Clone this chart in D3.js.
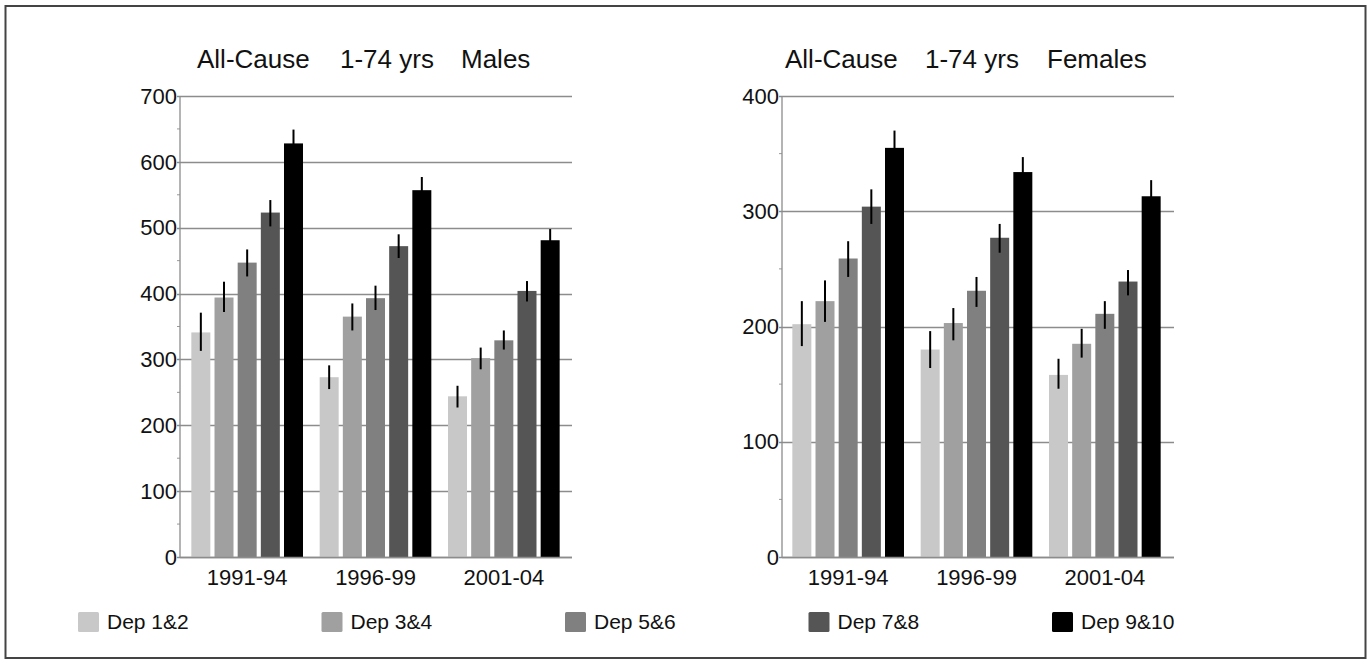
<!DOCTYPE html>
<html>
<head>
<meta charset="utf-8">
<script src="https://cdn.jsdelivr.net/npm/d3@7"></script>
<style>
  html, body { margin: 0; padding: 0; background: #fff; }
  svg { display: block; font-family: "Liberation Sans", Arial, sans-serif; }
</style>
</head>
<body>
<svg id="chart" width="1369" height="664"></svg>
<script>
// ---- Data ----
const categories = ["1991-94", "1996-99", "2001-04"];
const series = ["Dep 1&2", "Dep 3&4", "Dep 5&6", "Dep 7&8", "Dep 9&10"];
const colors = ["#c8c8c8", "#a0a0a0", "#808080", "#555555", "#000000"];

// rows = series, columns = categories
const maleValues = [
  [341, 273, 244],
  [394, 365, 302],
  [447, 393, 329],
  [523, 472, 404],
  [628, 557, 481]
];
const maleLower = [
  [313, 255, 227],
  [372, 344, 285],
  [426, 375, 315],
  [502, 454, 388],
  [607, 537, 465]
];
const maleUpper = [
  [371, 291, 260],
  [418, 385, 318],
  [467, 412, 344],
  [542, 490, 419],
  [649, 577, 498]
];

const femaleValues = [
  [202, 180, 158],
  [222, 203, 185],
  [259, 231, 211],
  [304, 277, 239],
  [355, 334, 313]
];
const femaleLower = [
  [183, 164, 146],
  [204, 188, 173],
  [243, 217, 198],
  [289, 264, 227],
  [339, 321, 300]
];
const femaleUpper = [
  [222, 196, 172],
  [240, 216, 198],
  [274, 243, 222],
  [319, 289, 249],
  [370, 347, 327]
];

const maleTicks = [0, 100, 200, 300, 400, 500, 600, 700];
const femaleTicks = [0, 100, 200, 300, 400];
const titleParts = ["All-Cause", "1-74 yrs"];
const maleTitleEnd = "Males";
const femaleTitleEnd = "Females";

// ---- Drawing ----
const svg = d3.select("#chart");

// outer border
svg.append("rect")
  .attr("x", 5.5).attr("y", 6)
  .attr("width", 1360).attr("height", 652)
  .attr("fill", "none").attr("stroke", "#444").attr("stroke-width", 2);

function panel(opts) {
  const g = svg.append("g");
  const y = d3.scaleLinear().domain([0, opts.max]).range([557, 96]);
  const x0 = d3.scaleBand().domain(categories).range(opts.catRange).padding(0);
  const x1 = d3.scaleBand().domain(series).range([0, x0.bandwidth()])
    .paddingInner(0.18).paddingOuter(0.36);

  // minor ticks
  const minor = d3.range(50, opts.max, 100);
  g.selectAll(".minor").data(minor).join("line")
    .attr("x1", opts.axisX - 3).attr("x2", opts.axisX)
    .attr("y1", d => y(d)).attr("y2", d => y(d))
    .attr("stroke", "#999").attr("stroke-width", 1);

  // grid lines + major ticks
  g.selectAll(".grid").data(opts.ticks).join("line")
    .attr("x1", opts.axisX - 3).attr("x2", opts.gridEnd)
    .attr("y1", d => Math.round(y(d)) + 0.5).attr("y2", d => Math.round(y(d)) + 0.5)
    .attr("stroke", "#8c8c8c").attr("stroke-width", 1.3);

  // y axis line
  g.append("line")
    .attr("x1", opts.axisX).attr("x2", opts.axisX)
    .attr("y1", y(opts.max)).attr("y2", y(0))
    .attr("stroke", "#8c8c8c").attr("stroke-width", 1.3);

  // y tick labels
  g.selectAll(".ylab").data(opts.ticks).join("text")
    .attr("x", opts.axisX - 3).attr("y", d => y(d))
    .attr("dy", "0.35em")
    .attr("text-anchor", "end")
    .attr("font-size", 22).attr("fill", "#111")
    .text(d => d);

  // bars
  const groups = g.selectAll(".grp").data(categories).join("g")
    .attr("transform", c => `translate(${x0(c)},0)`);

  groups.each(function(c, ci) {
    const gg = d3.select(this);
    series.forEach((s, si) => {
      const v = opts.values[si][ci];
      gg.append("rect")
        .attr("x", x1(s)).attr("width", x1.bandwidth())
        .attr("y", y(v)).attr("height", y(0) - y(v))
        .attr("fill", colors[si]);
    });
    series.forEach((s, si) => {
      const cx = x1(s) + x1.bandwidth() / 2;
      gg.append("line")
        .attr("x1", cx).attr("x2", cx)
        .attr("y1", y(opts.upper[si][ci])).attr("y2", y(opts.lower[si][ci]))
        .attr("stroke", "#000").attr("stroke-width", 2);
    });
  });

  // bottom baseline redraw on top
  g.append("line")
    .attr("x1", opts.axisX).attr("x2", opts.gridEnd)
    .attr("y1", Math.round(y(0)) + 0.5).attr("y2", Math.round(y(0)) + 0.5)
    .attr("stroke", "#8c8c8c").attr("stroke-width", 1.3);

  // category labels
  g.selectAll(".xlab").data(categories).join("text")
    .attr("x", c => x0(c) + x0.bandwidth() / 2)
    .attr("y", 585)
    .attr("text-anchor", "middle")
    .attr("font-size", 22).attr("fill", "#111")
    .text(c => c);

  // title
  const tx = opts.titleX;
  [titleParts[0], titleParts[1], opts.titleEnd].forEach((t, i) => {
    g.append("text")
      .attr("x", tx[i]).attr("y", 68)
      .attr("font-size", 26).attr("fill", "#111")
      .text(t);
  });
}

panel({
  max: 700, ticks: maleTicks,
  axisX: 180, gridEnd: 572, catRange: [183, 568],
  values: maleValues, lower: maleLower, upper: maleUpper,
  titleX: [197, 340, 461], titleEnd: maleTitleEnd
});

panel({
  max: 400, ticks: femaleTicks,
  axisX: 782, gridEnd: 1174, catRange: [784, 1169],
  values: femaleValues, lower: femaleLower, upper: femaleUpper,
  titleX: [785, 925, 1047], titleEnd: femaleTitleEnd
});

// legend
const legendX = d3.scaleBand().domain(series).range([78, 78 + 5 * 243.5]);
const leg = svg.append("g").selectAll("g").data(series).join("g")
  .attr("transform", s => `translate(${legendX(s)},612)`);
leg.append("rect")
  .attr("width", 21).attr("height", 20).attr("rx", 1.5)
  .attr("fill", (s, i) => colors[i]);
leg.append("text")
  .attr("x", 29).attr("y", 10).attr("dy", "0.35em")
  .attr("font-size", 21).attr("fill", "#111")
  .text(s => s);
</script>
</body>
</html>
